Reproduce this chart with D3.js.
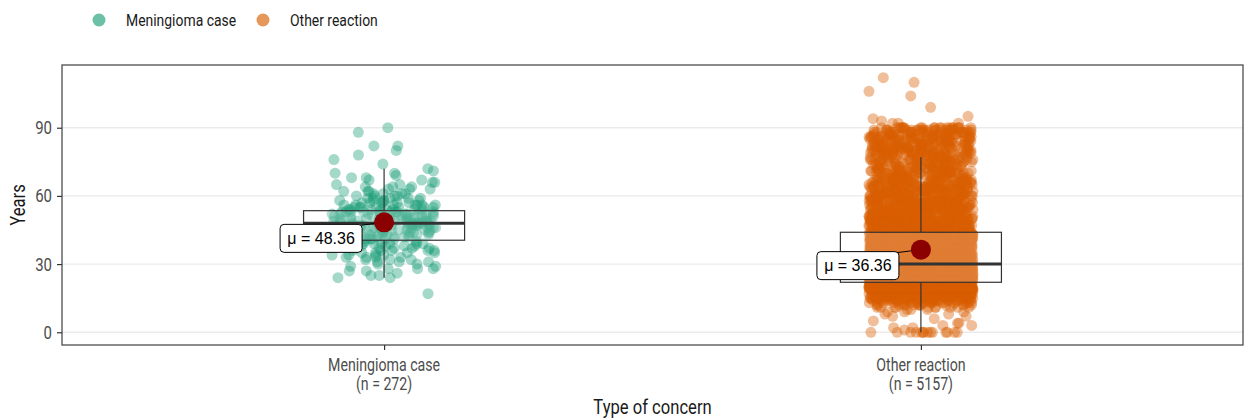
<!DOCTYPE html>
<html>
<head>
<meta charset="utf-8">
<script src="https://cdn.jsdelivr.net/npm/d3@7"></script>
<style>
  body { margin: 0; background: #fff; }
  svg text { font-family: Roboto, "DejaVu Sans Condensed", sans-serif; }
</style>
</head>
<body>
<svg id="chart" width="1244" height="419"></svg>
<script>
// Groups compared
const categories = ["Meningioma case", "Other reaction"];
const sampleSizes = [272, 5157];
const groupColors = ["#1B9E77", "#D95F02"];

// Ages recorded in each group and the number of cases at each age
const meningiomaAges = [17, 24, 25, 26, 27, 28, 29, 30, 31, 32, 33, 34, 35, 36, 37, 38, 39, 40, 41,
  42, 43, 44, 45, 46, 47, 48, 49, 50, 51, 52, 53, 54, 55, 56, 57, 58, 59, 60, 61, 62, 63, 64, 65,
  66, 67, 68, 69, 70, 71, 72, 74, 76, 78, 80, 82, 88, 90];
const meningiomaCounts = [1, 2, 2, 1, 2, 3, 2, 2, 3, 3, 4, 4, 4, 5, 5, 6, 7, 8, 9,
  10, 10, 10, 11, 11, 11, 11, 11, 10, 10, 9, 9, 8, 7, 7, 6, 5, 5, 4, 4, 3, 3, 3, 2,
  2, 2, 2, 1, 2, 1, 1, 1, 1, 1, 1, 2, 1, 1];

const otherAges = [0, 1, 2, 3, 4, 5, 6, 7, 8, 9, 10, 11, 12, 13, 14, 15, 16, 17, 18, 19, 20, 21, 22,
  23, 24, 25, 26, 27, 28, 29, 30, 31, 32, 33, 34, 35, 36, 37, 38, 39, 40, 41, 42, 43, 44,
  45, 46, 47, 48, 49, 50, 51, 52, 53, 54, 55, 56, 57, 58, 59, 60, 61, 62, 63, 64, 65, 66, 67,
  68, 69, 70, 71, 72, 73, 74, 75, 76, 77, 78, 79, 80, 81, 82, 83, 84, 85, 86, 87, 88, 89, 90,
  92, 93, 94, 95, 99, 104, 106, 110, 112];
const otherCounts = [14, 1, 2, 2, 2, 1, 1, 2, 2, 3, 3, 10, 14, 20, 30, 48, 73, 100, 150, 180, 200, 210, 221,
  190, 185, 175, 165, 155, 145, 140, 134, 115, 113, 112, 106, 100, 96, 92, 88, 85, 82, 79, 76, 73, 73,
  51, 48, 46, 45, 43, 42, 40, 39, 38, 36, 35, 34, 33, 31, 30, 29, 28, 27, 27, 26, 25, 24, 23,
  22, 21, 21, 20, 19, 18, 18, 18, 18, 17, 22, 22, 22, 22, 22, 22, 22, 22, 22, 22, 22, 22, 22,
  3, 1, 1, 1, 1, 1, 1, 1, 1];

// Box-plot summaries per group
const whiskerLow = [24, 0];
const quartile1 = [40.5, 22];
const medians = [48, 30];
const quartile3 = [53.5, 44];
const whiskerHigh = [72, 77];
const means = [48.36, 36.36];

const yTicks = [0, 30, 60, 90];

// ---------------------------------------------------------------
const svg = d3.select("#chart");
const panel = { left: 62, right: 1243, top: 65, bottom: 345 };
const NARROW = 0.81; // horizontal squeeze giving Roboto a narrow cut

// narrow-text helper: position via translate, then squeeze horizontally
function narrowText(parent, px, py, str, size, anchor, fill, rotate) {
  const rot = rotate ? ` rotate(${rotate})` : "";
  return parent.append("text")
    .attr("transform", `translate(${px},${py})${rot} scale(${NARROW},1)`)
    .attr("text-anchor", anchor)
    .attr("fill", fill)
    .style("font-size", size + "px")
    .text(str);
}

// deterministic horizontal jitter in [0, 1) from a point's index
function jitterFraction(k, g) {
  const v = Math.sin((k + 1) * 12.9898 + g * 78.233) * 43758.5453;
  return v - Math.floor(v);
}

const x = d3.scalePoint().domain(categories).range([panel.left, panel.right]).padding(0.6);
const step = x.step();

const groups = [
  { ages: meningiomaAges, counts: meningiomaCounts },
  { ages: otherAges, counts: otherCounts }
];
const allAges = groups.flatMap(g => g.ages);
const [yMin, yMax] = d3.extent(allAges);
const pad = (yMax - yMin) * 0.05;
const y = d3.scaleLinear().domain([yMin - pad, yMax + pad]).range([panel.bottom, panel.top]);

// horizontal grid
svg.append("g").selectAll("line").data(yTicks).join("line")
  .attr("x1", panel.left).attr("x2", panel.right)
  .attr("y1", d => y(d)).attr("y2", d => y(d))
  .attr("stroke", "#ebebeb").attr("stroke-width", 1.4);

// jittered points
const jitterHalf = step * 0.097;
const pointLayer = svg.append("g");
groups.forEach((g, gi) => {
  const pts = [];
  let k = 0;
  g.ages.forEach((age, i) => {
    for (let c = 0; c < g.counts[i]; c++) {
      pts.push({ age, dx: (2 * jitterFraction(k, gi) - 1) * jitterHalf });
      k++;
    }
  });
  pointLayer.append("g").selectAll("circle").data(pts).join("circle")
    .attr("cx", d => x(categories[gi]) + d.dx)
    .attr("cy", d => y(d.age))
    .attr("r", 5.5)
    .attr("fill", groupColors[gi])
    .attr("fill-opacity", 0.4);
});

// box plots
const boxHalf = step * 0.15;
const boxes = svg.append("g");
categories.forEach((cat, i) => {
  const cx = x(cat);
  boxes.append("line").attr("x1", cx).attr("x2", cx)
    .attr("y1", y(quartile3[i])).attr("y2", y(whiskerHigh[i]))
    .attr("stroke", "#333").attr("stroke-width", 1.2);
  boxes.append("line").attr("x1", cx).attr("x2", cx)
    .attr("y1", y(quartile1[i])).attr("y2", y(whiskerLow[i]))
    .attr("stroke", "#333").attr("stroke-width", 1.2);
  boxes.append("rect")
    .attr("x", cx - boxHalf).attr("width", boxHalf * 2)
    .attr("y", y(quartile3[i])).attr("height", y(quartile1[i]) - y(quartile3[i]))
    .attr("fill", "#fff").attr("fill-opacity", 0.2)
    .attr("stroke", "#333").attr("stroke-width", 1.2);
  boxes.append("line")
    .attr("x1", cx - boxHalf).attr("x2", cx + boxHalf)
    .attr("y1", y(medians[i])).attr("y2", y(medians[i]))
    .attr("stroke", "#333").attr("stroke-width", 3);
});

// means with labels
const meanLayer = svg.append("g");
categories.forEach((cat, i) => {
  const cx = x(cat), cy = y(means[i]);
  const bw = 82, bh = 28;
  const bx = cx - 22 - bw, by = cy + 2;
  meanLayer.append("line").attr("x1", bx + bw - 2).attr("y1", by + 1).attr("x2", cx).attr("y2", cy)
    .attr("stroke", "#000").attr("stroke-width", 1);
  meanLayer.append("circle").attr("cx", cx).attr("cy", cy).attr("r", 10).attr("fill", "#8B0000");
  meanLayer.append("rect").attr("x", bx).attr("y", by).attr("width", bw).attr("height", bh)
    .attr("rx", 4).attr("fill", "#fff").attr("stroke", "#000").attr("stroke-width", 1);
  meanLayer.append("text").attr("x", bx + bw / 2).attr("y", by + 19.5)
    .attr("text-anchor", "middle")
    .style("font-family", "'Liberation Sans', Arial, sans-serif").style("font-size", "16px")
    .attr("fill", "#000")
    .text("\u03bc = " + means[i].toFixed(2));
});

// panel border (right side runs off the canvas)
svg.append("rect").attr("x", panel.left).attr("y", panel.top)
  .attr("width", panel.right - panel.left).attr("height", panel.bottom - panel.top)
  .attr("fill", "none").attr("stroke", "#4d4d4d").attr("stroke-width", 1.3);

// y axis
const yAxis = svg.append("g").attr("transform", `translate(${panel.left},0)`)
  .call(d3.axisLeft(y).tickValues(yTicks).tickSize(5).tickFormat(""));
yAxis.select(".domain").remove();
yAxis.selectAll(".tick line").attr("stroke", "#333").attr("stroke-width", 1.2);
yTicks.forEach(t => narrowText(svg, panel.left - 10, y(t) + 6.5, String(t), 18.5, "end", "#4d4d4d"));

// x axis
const xAxis = svg.append("g").attr("transform", `translate(0,${panel.bottom})`)
  .call(d3.axisBottom(x).tickSize(5).tickFormat(""));
xAxis.select(".domain").remove();
xAxis.selectAll(".tick line").attr("stroke", "#333").attr("stroke-width", 1.2);
categories.forEach((cat, i) => {
  narrowText(svg, x(cat), 370.5, cat, 17.5, "middle", "#4d4d4d");
  narrowText(svg, x(cat), 389.5, `(n = ${sampleSizes[i]})`, 17.5, "middle", "#4d4d4d");
});

// axis titles
narrowText(svg, (panel.left + panel.right) / 2, 414, "Type of concern", 20.5, "middle", "#1a1a1a");
narrowText(svg, 25, (panel.top + panel.bottom) / 2, "Years", 20.5, "middle", "#1a1a1a", -90);

// legend
const legend = svg.append("g");
const legendX = [99, 263];
categories.forEach((cat, i) => {
  legend.append("circle").attr("cx", legendX[i]).attr("cy", 20).attr("r", 6.5)
    .attr("fill", groupColors[i]).attr("fill-opacity", 0.65);
  narrowText(legend, legendX[i] + 27, 26, cat, 17.2, "start", "#1a1a1a");
});
</script>
</body>
</html>
